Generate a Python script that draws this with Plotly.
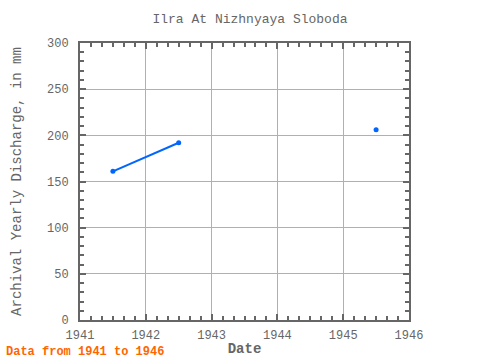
import plotly.graph_objects as go

years = [1941.5, 1942.5, 1943.5, 1944.5, 1945.5]
discharge = [161, 192, None, None, 206]
x_ticks = [1941, 1942, 1943, 1944, 1945, 1946]
y_ticks = [0, 50, 100, 150, 200, 250, 300]

FONT = "Liberation Mono"
AX = "#666666"
TXT = "#666666"

fig = go.Figure()
fig.add_trace(go.Scatter(
    x=years, y=discharge, mode="lines+markers",
    line=dict(color="#0066ff", width=2),
    marker=dict(color="#0066ff", size=5),
    connectgaps=False, showlegend=False,
))

fig.update_layout(
    width=480, height=360,
    margin=dict(l=80, r=71, t=43, b=40, autoexpand=False),
    paper_bgcolor="white", plot_bgcolor="white",
    font=dict(family=FONT, size=12, color=TXT),
    title=dict(text="Ilra At Nizhnyaya Sloboda", x=250/480, xanchor="center",
               y=1 - 18/360, yanchor="middle",
               font=dict(family=FONT, size=13, color=TXT)),
    xaxis=dict(
        range=[1941, 1946], tickvals=x_ticks, ticktext=[str(v) for v in x_ticks],
        showgrid=True, gridcolor="#b0b0b0", gridwidth=1,
        showline=True, linecolor=AX, linewidth=2, mirror="ticks",
        ticks="inside", ticklen=6, tickcolor=AX, tickwidth=2,
        minor=dict(dtick=1/6, tick0=1941, ticks="inside", ticklen=4, tickcolor=AX, tickwidth=2, showgrid=False),
        title=dict(text="<b>Date</b>", font=dict(family=FONT, size=14, color=TXT), standoff=1),
        tickfont=dict(family=FONT, size=12, color=TXT), zeroline=False,
        ticklabelstandoff=3, automargin=False,
    ),
    yaxis=dict(
        range=[0, 300], tickvals=y_ticks,
        showgrid=True, gridcolor="#b0b0b0", gridwidth=1,
        showline=True, linecolor=AX, linewidth=2, mirror="ticks",
        ticks="inside", ticklen=6, tickcolor=AX, tickwidth=2,
        minor=dict(dtick=10, tick0=0, ticks="inside", ticklen=4, tickcolor=AX, tickwidth=2, showgrid=False),
        title=dict(text="Archival Yearly Discharge, in mm", font=dict(family=FONT, size=14, color=TXT), standoff=22),
        tickfont=dict(family=FONT, size=12, color=TXT), zeroline=False,
        ticklabelstandoff=7, automargin=False,
    ),
)
fig.add_annotation(text="<b>Data from 1941 to 1946</b>", xref="paper", yref="paper",
                   x=-76/329, y=-32/277, xanchor="left", yanchor="middle",
                   showarrow=False, font=dict(family=FONT, size=12, color="#ff6600"))
fig.write_html("out.html", config={"displayModeBar": False},
               post_script="document.body.style.margin='0';")
